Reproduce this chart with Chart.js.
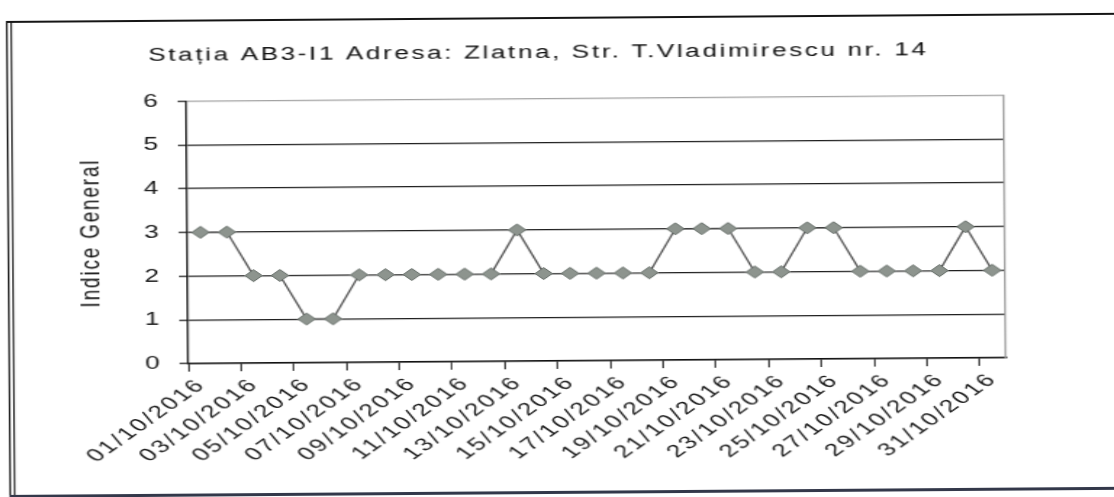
<!DOCTYPE html>
<html>
<head>
<meta charset="utf-8">
<script src="https://cdn.jsdelivr.net/npm/chart.js@4.4.1/dist/chart.umd.min.js"></script>
<style>
  html, body { margin: 0; padding: 0; background: #fff; overflow: hidden; width: 1114px; height: 497px; }
  #page { position: relative; width: 1114px; height: 497px; overflow: hidden; }
  #stretch { position: absolute; left: 0; top: 0; width: 782px; height: 497px;
             transform: translate(0, 4px) rotate(-0.42deg) scaleX(1.45); transform-origin: 0 0; }
</style>
</head>
<body>
<div id="page">
  <div id="stretch"><canvas id="chart-canvas"></canvas></div>
</div>
<script>
var days = [
    '01/10/2016', '02/10/2016', '03/10/2016', '04/10/2016', '05/10/2016', '06/10/2016',
    '07/10/2016', '08/10/2016', '09/10/2016', '10/10/2016', '11/10/2016', '12/10/2016',
    '13/10/2016', '14/10/2016', '15/10/2016', '16/10/2016', '17/10/2016', '18/10/2016',
    '19/10/2016', '20/10/2016', '21/10/2016', '22/10/2016', '23/10/2016', '24/10/2016',
    '25/10/2016', '26/10/2016', '27/10/2016', '28/10/2016', '29/10/2016', '30/10/2016',
    '31/10/2016'
];
var indiceGeneral = [3, 3, 2, 2, 1, 1, 2, 2, 2, 2, 2, 2, 3, 2, 2, 2, 2, 2, 3, 3, 3, 2, 2, 3, 3, 2, 2, 2, 2, 3, 2];
var yMin = 0;
var yMax = 6;

var titleText = 'Stația AB3-I1 Adresa: Zlatna, Str. T.Vladimirescu nr. 14';
var yTitle = 'Indice General';

Chart.defaults.font.family = "'Liberation Sans', Arial, sans-serif";
Chart.defaults.font.size = 18;
Chart.defaults.color = '#1a1a1a';

// the scan has wide letter spacing on every text
var spacing = {
    id: 'spacing',
    beforeUpdate: function (chart) { chart.ctx.letterSpacing = '1.8px'; },
    beforeDraw: function (chart) { chart.ctx.letterSpacing = '1.8px'; }
};

// frame of the pasted picture: top line, double left line, bottom edge
// (canvas is a bit wider than the page so the lines run off the right side)
var frame = {
    id: 'frame',
    beforeDraw: function (chart) {
        var ctx = chart.ctx;
        ctx.save();
        ctx.fillStyle = '#151515';
        ctx.fillRect(4, 17, chart.width, 2);
        ctx.fillRect(4, 17, 1.1, chart.height - 17);
        ctx.fillRect(7, 18, 1.1, chart.height - 18);
        ctx.fillStyle = '#33384a';
        ctx.fillRect(4, 491, chart.width, 3);
        ctx.restore();
    }
};

new Chart(document.getElementById('chart-canvas'), {
    type: 'line',
    data: {
        labels: days,
        datasets: [
            {
                data: indiceGeneral,
                borderColor: '#4e4e4e',
                borderWidth: 1.3,
                pointStyle: 'rectRot',
                pointRadius: 6,
                pointBackgroundColor: '#8d948e',
                pointBorderColor: '#646c67',
                pointBorderWidth: 1,
                tension: 0
            }
        ]
    },
    plugins: [spacing, frame],
    options: {
        responsive: true,
        maintainAspectRatio: false,
        animation: false,
        events: [],
        layout: {
            padding: { top: 0, left: 50, right: 90, bottom: 34 }
        },
        plugins: {
            legend: { display: false },
            tooltip: { enabled: false },
            title: {
                display: true,
                text: titleText,
                color: '#111',
                font: { size: 18, weight: 'normal' },
                padding: { top: 42, bottom: 35 }
            }
        },
        scales: {
            x: {
                offset: true,
                afterFit: function (s) { s.height = 102; },
                grid: {
                    offset: true,
                    drawOnChartArea: false,
                    tickLength: 8,
                    lineWidth: 1,
                    color: function (c) { return c.index % 2 === 0 ? '#222' : 'rgba(0,0,0,0)'; }
                },
                border: { color: '#111', width: 1.4 },
                ticks: {
                    autoSkip: false,
                    minRotation: 45,
                    maxRotation: 45,
                    padding: 3,
                    color: '#1a1a1a',
                    callback: function (v, i) { return i % 2 === 0 ? days[i] : ''; }
                }
            },
            y: {
                min: yMin,
                max: yMax,
                afterFit: function (s) { s.width = 78; },
                title: {
                    display: true,
                    text: yTitle,
                    color: '#111',
                    font: { size: 19 },
                    padding: { top: 0, bottom: 0 }
                },
                grid: {
                    tickLength: 6,
                    lineWidth: 1.3,
                    tickColor: '#222',
                    color: function (c) { return c.tick.value === yMax ? '#a3a3a3' : '#1e1e1e'; }
                },
                border: { color: '#111', width: 1.3 },
                ticks: { stepSize: 1, padding: 12, color: '#1a1a1a' }
            },
            y2: {
                position: 'right',
                min: yMin,
                max: yMax,
                grid: { drawOnChartArea: false, drawTicks: false },
                border: { color: '#9a9a9a', width: 1.2, dash: [2, 2] },
                ticks: { display: false }
            }
        }
    }
});
</script>
</body>
</html>
